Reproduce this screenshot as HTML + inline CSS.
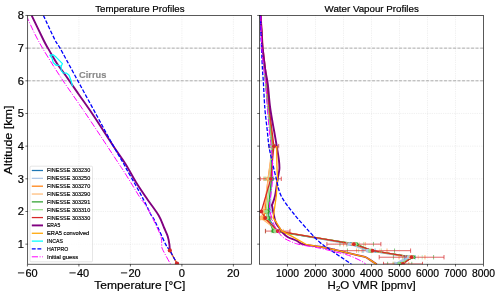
<!DOCTYPE html>
<html><head><meta charset="utf-8"><title>Profiles</title>
<style>html,body{margin:0;padding:0;background:#fff;}svg{display:block;will-change:transform;}text{stroke:#000;stroke-width:0.2px;}text.lg{stroke-width:0.16px;}text.ci{stroke:#8a8a8a;stroke-width:0.15px;}</style></head>
<body>
<svg width="500" height="296" viewBox="0 0 500 296">
<rect x="0" y="0" width="500" height="296" fill="#fff"/>
<defs><clipPath id="c1"><rect x="27.70" y="15.40" width="223.90" height="248.80"/></clipPath>
<clipPath id="c2"><rect x="259.50" y="15.40" width="224.00" height="248.80"/></clipPath></defs>
<line x1="78.92" y1="15.40" x2="78.92" y2="264.20" stroke="#b0b0b0" stroke-opacity="0.45" stroke-width="0.6" stroke-dasharray="0.7 1.1"/>
<line x1="130.41" y1="15.40" x2="130.41" y2="264.20" stroke="#b0b0b0" stroke-opacity="0.45" stroke-width="0.6" stroke-dasharray="0.7 1.1"/>
<line x1="181.90" y1="15.40" x2="181.90" y2="264.20" stroke="#b0b0b0" stroke-opacity="0.45" stroke-width="0.6" stroke-dasharray="0.7 1.1"/>
<line x1="233.39" y1="15.40" x2="233.39" y2="264.20" stroke="#b0b0b0" stroke-opacity="0.45" stroke-width="0.6" stroke-dasharray="0.7 1.1"/>
<line x1="27.70" y1="244.15" x2="251.60" y2="244.15" stroke="#b0b0b0" stroke-opacity="0.45" stroke-width="0.6" stroke-dasharray="0.7 1.1"/>
<line x1="27.70" y1="211.48" x2="251.60" y2="211.48" stroke="#b0b0b0" stroke-opacity="0.45" stroke-width="0.6" stroke-dasharray="0.7 1.1"/>
<line x1="27.70" y1="178.81" x2="251.60" y2="178.81" stroke="#b0b0b0" stroke-opacity="0.45" stroke-width="0.6" stroke-dasharray="0.7 1.1"/>
<line x1="27.70" y1="146.14" x2="251.60" y2="146.14" stroke="#b0b0b0" stroke-opacity="0.45" stroke-width="0.6" stroke-dasharray="0.7 1.1"/>
<line x1="27.70" y1="113.47" x2="251.60" y2="113.47" stroke="#b0b0b0" stroke-opacity="0.45" stroke-width="0.6" stroke-dasharray="0.7 1.1"/>
<line x1="27.70" y1="80.80" x2="251.60" y2="80.80" stroke="#b0b0b0" stroke-opacity="0.45" stroke-width="0.6" stroke-dasharray="0.7 1.1"/>
<line x1="27.70" y1="48.13" x2="251.60" y2="48.13" stroke="#b0b0b0" stroke-opacity="0.45" stroke-width="0.6" stroke-dasharray="0.7 1.1"/>
<line x1="27.70" y1="80.80" x2="251.60" y2="80.80" stroke="#808080" stroke-opacity="0.75" stroke-width="0.85" stroke-dasharray="3.1 1.4"/>
<line x1="27.70" y1="48.13" x2="251.60" y2="48.13" stroke="#808080" stroke-opacity="0.75" stroke-width="0.85" stroke-dasharray="3.1 1.4"/>
<g clip-path="url(#c1)">
<path d="M169.80 250.40 L177.00 263.60" fill="none" stroke="#d62728" stroke-width="1.1" stroke-linejoin="round"/>
<path d="M169.80 250.40 L177.00 263.60" fill="none" stroke="#ff7f0e" stroke-width="1.1" stroke-linejoin="round"/>
<path d="M31.60 15.40 C33.58 19.50 40.80 34.58 43.50 40.00 C46.20 45.42 46.38 45.37 47.80 47.90 C49.22 50.43 50.38 52.47 52.00 55.20 C53.62 57.93 55.17 60.83 57.50 64.30 C59.83 67.77 62.42 70.93 66.00 76.00 C69.58 81.07 74.37 88.03 79.00 94.70 C83.63 101.37 88.08 107.45 93.80 116.00 C99.52 124.55 108.02 138.00 113.30 146.00 C118.58 154.00 121.72 157.97 125.50 164.00 C129.28 170.03 132.37 176.33 136.00 182.20 C139.63 188.07 143.52 193.65 147.30 199.20 C151.08 204.75 155.88 210.70 158.70 215.50 C161.52 220.30 162.70 224.55 164.20 228.00 C165.70 231.45 166.83 233.47 167.70 236.20 C168.57 238.93 169.05 242.03 169.40 244.40 C169.75 246.77 169.73 249.40 169.80 250.40" fill="none" stroke="#800080" stroke-width="1.9" stroke-linejoin="round"/>
<path d="M49.60 55.20 L53.20 54.80 L56.30 57.30 L62.40 63.70 L61.20 66.20 L57.50 65.00 L56.30 65.50 L53.20 62.50 L52.00 58.20 L49.60 55.20" fill="none" stroke="#00ffff" stroke-width="1.2" stroke-linejoin="round"/>
<path d="M61.20 66.20 L61.20 70.40 L63.00 72.80 L66.60 73.10 L69.10 75.30 L71.20 81.00 L72.50 86.30" fill="none" stroke="#00ffff" stroke-width="1.2" stroke-linejoin="round"/>
<path d="M43.40 15.40 C45.33 19.50 52.25 34.58 55.00 40.00 C57.75 45.42 56.53 41.90 59.90 47.90 C63.27 53.90 69.02 64.65 75.20 76.00 C81.38 87.35 90.78 104.60 97.00 116.00 C103.22 127.40 108.03 136.40 112.50 144.40 C116.97 152.40 121.38 159.73 123.80 164.00 C126.22 168.27 125.23 166.83 127.00 170.00 C128.77 173.17 131.82 178.40 134.40 183.00 C136.98 187.60 139.67 192.18 142.50 197.60 C145.33 203.02 149.42 211.77 151.40 215.50 C153.38 219.23 152.02 215.18 154.40 220.00 C156.78 224.82 163.13 239.33 165.70 244.40 C168.27 249.47 167.92 247.20 169.80 250.40 C171.68 253.60 175.80 261.40 177.00 263.60" fill="none" stroke="#0000ff" stroke-width="1.3" stroke-linejoin="round" stroke-dasharray="3.9 1.7"/>
<path d="M26.30 15.40 C28.35 19.70 33.00 31.10 38.60 41.20 C44.20 51.30 51.78 63.53 59.90 76.00 C68.02 88.47 77.45 101.33 87.30 116.00 C97.15 130.67 113.05 155.00 119.00 164.00 C124.95 173.00 120.98 166.83 123.00 170.00 C125.02 173.17 128.27 178.40 131.10 183.00 C133.93 187.60 137.70 194.08 140.00 197.60 C142.30 201.12 142.87 200.87 144.90 204.10 C146.93 207.33 150.77 214.35 152.20 217.00 C153.63 219.65 152.07 216.80 153.50 220.00 C154.93 223.20 159.43 232.13 160.80 236.20 C162.17 240.27 161.42 242.23 161.70 244.40 C161.98 246.57 161.02 245.90 162.50 249.20 C163.98 252.50 169.25 261.70 170.60 264.20" fill="none" stroke="#ff00ff" stroke-width="1.0" stroke-linejoin="round" stroke-dasharray="6.2 1.6 1 1.6"/>
<circle cx="169.8" cy="250.4" r="2.1" fill="#d62728"/>
<circle cx="177" cy="263.6" r="2.2" fill="#d62728"/>
</g>
<text class="ci" x="79.1" y="78" font-family='"Liberation Sans", sans-serif' font-size="9" font-weight="bold" fill="#8a8a8a" textLength="27.2" lengthAdjust="spacingAndGlyphs">Cirrus</text>
<rect x="30" y="166.2" width="62.5" height="95.6" rx="1" fill="#fff" fill-opacity="0.8" stroke="#ccc" stroke-width="0.5"/>
<line x1="31.8" y1="170.50" x2="43" y2="170.50" stroke="#1f77b4" stroke-width="1.25"/>
<text class="lg" x="47" y="172.45" font-family='"Liberation Sans", sans-serif' font-size="5.5" fill="#000" textLength="43.2" lengthAdjust="spacingAndGlyphs">FINESSE 303230</text>
<line x1="31.8" y1="178.34" x2="43" y2="178.34" stroke="#aec7e8" stroke-width="1.25"/>
<text class="lg" x="47" y="180.29" font-family='"Liberation Sans", sans-serif' font-size="5.5" fill="#000" textLength="43.2" lengthAdjust="spacingAndGlyphs">FINESSE 303250</text>
<line x1="31.8" y1="186.19" x2="43" y2="186.19" stroke="#ff7f0e" stroke-width="1.25"/>
<text class="lg" x="47" y="188.14" font-family='"Liberation Sans", sans-serif' font-size="5.5" fill="#000" textLength="43.2" lengthAdjust="spacingAndGlyphs">FINESSE 303270</text>
<line x1="31.8" y1="194.03" x2="43" y2="194.03" stroke="#ffbb78" stroke-width="1.25"/>
<text class="lg" x="47" y="195.98" font-family='"Liberation Sans", sans-serif' font-size="5.5" fill="#000" textLength="43.2" lengthAdjust="spacingAndGlyphs">FINESSE 303290</text>
<line x1="31.8" y1="201.88" x2="43" y2="201.88" stroke="#2ca02c" stroke-width="1.25"/>
<text class="lg" x="47" y="203.83" font-family='"Liberation Sans", sans-serif' font-size="5.5" fill="#000" textLength="43.2" lengthAdjust="spacingAndGlyphs">FINESSE 303291</text>
<line x1="31.8" y1="209.72" x2="43" y2="209.72" stroke="#98df8a" stroke-width="1.25"/>
<text class="lg" x="47" y="211.67" font-family='"Liberation Sans", sans-serif' font-size="5.5" fill="#000" textLength="43.2" lengthAdjust="spacingAndGlyphs">FINESSE 303310</text>
<line x1="31.8" y1="217.57" x2="43" y2="217.57" stroke="#d62728" stroke-width="1.25"/>
<text class="lg" x="47" y="219.52" font-family='"Liberation Sans", sans-serif' font-size="5.5" fill="#000" textLength="43.2" lengthAdjust="spacingAndGlyphs">FINESSE 303330</text>
<line x1="31.8" y1="225.41" x2="43" y2="225.41" stroke="#800080" stroke-width="1.9"/>
<text class="lg" x="47" y="227.36" font-family='"Liberation Sans", sans-serif' font-size="5.5" fill="#000" textLength="13.2" lengthAdjust="spacingAndGlyphs">ERA5</text>
<line x1="31.8" y1="233.26" x2="43" y2="233.26" stroke="#ffa500" stroke-width="1.25"/>
<text class="lg" x="47" y="235.21" font-family='"Liberation Sans", sans-serif' font-size="5.5" fill="#000" textLength="42.3" lengthAdjust="spacingAndGlyphs">ERA5 convolved</text>
<line x1="31.8" y1="241.11" x2="43" y2="241.11" stroke="#00ffff" stroke-width="1.25"/>
<text class="lg" x="47" y="243.06" font-family='"Liberation Sans", sans-serif' font-size="5.5" fill="#000" textLength="16" lengthAdjust="spacingAndGlyphs">INCAS</text>
<line x1="31.8" y1="248.95" x2="43" y2="248.95" stroke="#0000ff" stroke-width="1.3" stroke-dasharray="3.9 1.7"/>
<text class="lg" x="47" y="250.90" font-family='"Liberation Sans", sans-serif' font-size="5.5" fill="#000" textLength="21.2" lengthAdjust="spacingAndGlyphs">HATPRO</text>
<line x1="31.8" y1="256.80" x2="43" y2="256.80" stroke="#ff00ff" stroke-width="1.0" stroke-dasharray="6.2 1.6 1 1.6"/>
<text class="lg" x="47" y="258.75" font-family='"Liberation Sans", sans-serif' font-size="5.5" fill="#000" textLength="31.2" lengthAdjust="spacingAndGlyphs">Initial guess</text>
<line x1="287.50" y1="15.40" x2="287.50" y2="264.20" stroke="#b0b0b0" stroke-opacity="0.45" stroke-width="0.6" stroke-dasharray="0.7 1.1"/>
<line x1="315.50" y1="15.40" x2="315.50" y2="264.20" stroke="#b0b0b0" stroke-opacity="0.45" stroke-width="0.6" stroke-dasharray="0.7 1.1"/>
<line x1="343.50" y1="15.40" x2="343.50" y2="264.20" stroke="#b0b0b0" stroke-opacity="0.45" stroke-width="0.6" stroke-dasharray="0.7 1.1"/>
<line x1="371.50" y1="15.40" x2="371.50" y2="264.20" stroke="#b0b0b0" stroke-opacity="0.45" stroke-width="0.6" stroke-dasharray="0.7 1.1"/>
<line x1="399.50" y1="15.40" x2="399.50" y2="264.20" stroke="#b0b0b0" stroke-opacity="0.45" stroke-width="0.6" stroke-dasharray="0.7 1.1"/>
<line x1="427.50" y1="15.40" x2="427.50" y2="264.20" stroke="#b0b0b0" stroke-opacity="0.45" stroke-width="0.6" stroke-dasharray="0.7 1.1"/>
<line x1="455.50" y1="15.40" x2="455.50" y2="264.20" stroke="#b0b0b0" stroke-opacity="0.45" stroke-width="0.6" stroke-dasharray="0.7 1.1"/>
<line x1="259.50" y1="244.15" x2="483.50" y2="244.15" stroke="#b0b0b0" stroke-opacity="0.45" stroke-width="0.6" stroke-dasharray="0.7 1.1"/>
<line x1="259.50" y1="211.48" x2="483.50" y2="211.48" stroke="#b0b0b0" stroke-opacity="0.45" stroke-width="0.6" stroke-dasharray="0.7 1.1"/>
<line x1="259.50" y1="178.81" x2="483.50" y2="178.81" stroke="#b0b0b0" stroke-opacity="0.45" stroke-width="0.6" stroke-dasharray="0.7 1.1"/>
<line x1="259.50" y1="146.14" x2="483.50" y2="146.14" stroke="#b0b0b0" stroke-opacity="0.45" stroke-width="0.6" stroke-dasharray="0.7 1.1"/>
<line x1="259.50" y1="113.47" x2="483.50" y2="113.47" stroke="#b0b0b0" stroke-opacity="0.45" stroke-width="0.6" stroke-dasharray="0.7 1.1"/>
<line x1="259.50" y1="80.80" x2="483.50" y2="80.80" stroke="#b0b0b0" stroke-opacity="0.45" stroke-width="0.6" stroke-dasharray="0.7 1.1"/>
<line x1="259.50" y1="48.13" x2="483.50" y2="48.13" stroke="#b0b0b0" stroke-opacity="0.45" stroke-width="0.6" stroke-dasharray="0.7 1.1"/>
<line x1="259.50" y1="80.80" x2="483.50" y2="80.80" stroke="#808080" stroke-opacity="0.75" stroke-width="0.85" stroke-dasharray="3.1 1.4"/>
<line x1="259.50" y1="48.13" x2="483.50" y2="48.13" stroke="#808080" stroke-opacity="0.75" stroke-width="0.85" stroke-dasharray="3.1 1.4"/>
<g clip-path="url(#c2)">
<path d="M398.00 264.00 L410.00 257.22 L369.00 250.68 L351.00 244.15 L277.00 231.08 L268.50 218.01 L269.30 211.48 L271.80 178.81 L272.30 146.14 L268.60 113.47 L265.60 80.80 L262.20 48.13 L260.90 15.46" fill="none" stroke="#1f77b4" stroke-width="1.25" stroke-linejoin="round"/>
<path d="M396.50 264.00 L408.70 257.22 L367.50 250.68 L349.40 244.15 L276.00 231.08 L267.50 218.01 L270.50 211.48 L271.00 178.81 L272.60 146.14 L268.80 113.47 L265.60 80.80 L262.20 48.13 L260.90 15.46" fill="none" stroke="#aec7e8" stroke-width="1.25" stroke-linejoin="round"/>
<path d="M401.00 264.00 L412.00 257.22 L371.80 250.68 L354.40 244.15 L278.30 231.08 L264.00 218.01 L265.00 211.48 L268.00 178.81 L273.00 146.14 L269.20 113.47 L265.90 80.80 L262.40 48.13 L260.90 15.46" fill="none" stroke="#ff7f0e" stroke-width="1.25" stroke-linejoin="round"/>
<path d="M400.00 264.00 L410.50 257.22 L370.80 250.68 L352.80 244.15 L278.00 231.08 L261.00 218.01 L263.50 211.48 L268.30 178.81 L272.00 146.14 L268.60 113.47 L265.60 80.80 L262.20 48.13 L260.90 15.46" fill="none" stroke="#ffbb78" stroke-width="1.25" stroke-linejoin="round"/>
<path d="M399.70 264.00 L413.50 257.22 L371.00 250.68 L356.70 244.15 L273.20 231.08 L268.40 218.01 L268.00 211.48 L271.50 178.81 L272.00 146.14 L268.50 113.47 L265.50 80.80 L262.20 48.13 L260.90 15.46" fill="none" stroke="#2ca02c" stroke-width="1.25" stroke-linejoin="round"/>
<path d="M399.00 264.00 L412.50 257.22 L370.00 250.68 L355.50 244.15 L275.00 231.08 L267.00 218.01 L266.20 211.48 L270.00 178.81 L271.60 146.14 L268.30 113.47 L265.40 80.80 L262.20 48.13 L260.90 15.46" fill="none" stroke="#98df8a" stroke-width="1.25" stroke-linejoin="round"/>
<path d="M403.00 264.00 L411.60 257.22 L372.60 250.68 L353.90 244.15 L277.70 231.08 L265.30 218.01 L261.30 211.48 L270.80 178.81 L273.90 146.14 L269.90 113.47 L266.80 80.80 L263.00 48.13 L261.00 15.46" fill="none" stroke="#d62728" stroke-width="1.25" stroke-linejoin="round"/>
<path d="M408.40 257.22 L396.50 264.00" fill="none" stroke="#aec7e8" stroke-width="2.6" stroke-linejoin="round"/>
<path d="M399.70 264.00 L413.50 257.22" fill="none" stroke="#2ca02c" stroke-width="1.25" stroke-linejoin="round"/>
<path d="M399.00 264.00 L412.50 257.22" fill="none" stroke="#98df8a" stroke-width="1.25" stroke-linejoin="round"/>
<path d="M403.00 264.00 L411.60 257.22" fill="none" stroke="#d62728" stroke-width="1.25" stroke-linejoin="round"/>
<path d="M394.88 261.80 v4.4 M401.12 261.80 v4.4" stroke="#1f77b4" stroke-opacity="0.6" stroke-width="0.95" fill="none"/>
<path d="M404.82 255.02 v4.4 M415.18 255.02 v4.4" stroke="#1f77b4" stroke-opacity="0.6" stroke-width="0.95" fill="none"/>
<path d="M362.92 248.48 v4.4 M375.08 248.48 v4.4" stroke="#1f77b4" stroke-opacity="0.6" stroke-width="0.95" fill="none"/>
<path d="M346.68 241.95 v4.4 M355.32 241.95 v4.4" stroke="#1f77b4" stroke-opacity="0.6" stroke-width="0.95" fill="none"/>
<path d="M275.03 228.88 v4.4 M278.97 228.88 v4.4" stroke="#1f77b4" stroke-opacity="0.6" stroke-width="0.95" fill="none"/>
<path d="M270.12 176.61 v4.4 M273.48 176.61 v4.4" stroke="#1f77b4" stroke-opacity="0.6" stroke-width="0.95" fill="none"/>
<path d="M394.55 261.80 v4.4 M398.45 261.80 v4.4" stroke="#aec7e8" stroke-opacity="0.6" stroke-width="0.95" fill="none"/>
<path d="M405.46 255.02 v4.4 M411.94 255.02 v4.4" stroke="#aec7e8" stroke-opacity="0.6" stroke-width="0.95" fill="none"/>
<path d="M363.70 248.48 v4.4 M371.30 248.48 v4.4" stroke="#aec7e8" stroke-opacity="0.6" stroke-width="0.95" fill="none"/>
<path d="M346.70 241.95 v4.4 M352.10 241.95 v4.4" stroke="#aec7e8" stroke-opacity="0.6" stroke-width="0.95" fill="none"/>
<path d="M274.77 228.88 v4.4 M277.23 228.88 v4.4" stroke="#aec7e8" stroke-opacity="0.6" stroke-width="0.95" fill="none"/>
<path d="M269.95 176.61 v4.4 M272.05 176.61 v4.4" stroke="#aec7e8" stroke-opacity="0.6" stroke-width="0.95" fill="none"/>
<path d="M393.20 261.80 v4.4 M408.80 261.80 v4.4" stroke="#ff7f0e" stroke-opacity="0.6" stroke-width="0.95" fill="none"/>
<path d="M399.04 255.02 v4.4 M424.96 255.02 v4.4" stroke="#ff7f0e" stroke-opacity="0.6" stroke-width="0.95" fill="none"/>
<path d="M356.60 248.48 v4.4 M387.00 248.48 v4.4" stroke="#ff7f0e" stroke-opacity="0.6" stroke-width="0.95" fill="none"/>
<path d="M343.60 241.95 v4.4 M365.20 241.95 v4.4" stroke="#ff7f0e" stroke-opacity="0.6" stroke-width="0.95" fill="none"/>
<path d="M273.38 228.88 v4.4 M283.22 228.88 v4.4" stroke="#ff7f0e" stroke-opacity="0.6" stroke-width="0.95" fill="none"/>
<path d="M262.00 215.81 v4.4 M266.00 215.81 v4.4" stroke="#ff7f0e" stroke-opacity="0.6" stroke-width="0.95" fill="none"/>
<path d="M263.40 209.28 v4.4 M266.60 209.28 v4.4" stroke="#ff7f0e" stroke-opacity="0.6" stroke-width="0.95" fill="none"/>
<path d="M263.80 176.61 v4.4 M272.20 176.61 v4.4" stroke="#ff7f0e" stroke-opacity="0.6" stroke-width="0.95" fill="none"/>
<path d="M271.08 143.94 v4.4 M274.92 143.94 v4.4" stroke="#ff7f0e" stroke-opacity="0.6" stroke-width="0.95" fill="none"/>
<path d="M395.32 261.80 v4.4 M404.68 261.80 v4.4" stroke="#ffbb78" stroke-opacity="0.6" stroke-width="0.95" fill="none"/>
<path d="M402.72 255.02 v4.4 M418.28 255.02 v4.4" stroke="#ffbb78" stroke-opacity="0.6" stroke-width="0.95" fill="none"/>
<path d="M361.68 248.48 v4.4 M379.92 248.48 v4.4" stroke="#ffbb78" stroke-opacity="0.6" stroke-width="0.95" fill="none"/>
<path d="M346.32 241.95 v4.4 M359.28 241.95 v4.4" stroke="#ffbb78" stroke-opacity="0.6" stroke-width="0.95" fill="none"/>
<path d="M275.05 228.88 v4.4 M280.95 228.88 v4.4" stroke="#ffbb78" stroke-opacity="0.6" stroke-width="0.95" fill="none"/>
<path d="M259.80 215.81 v4.4 M262.20 215.81 v4.4" stroke="#ffbb78" stroke-opacity="0.6" stroke-width="0.95" fill="none"/>
<path d="M262.54 209.28 v4.4 M264.46 209.28 v4.4" stroke="#ffbb78" stroke-opacity="0.6" stroke-width="0.95" fill="none"/>
<path d="M265.78 176.61 v4.4 M270.82 176.61 v4.4" stroke="#ffbb78" stroke-opacity="0.6" stroke-width="0.95" fill="none"/>
<path d="M270.85 143.94 v4.4 M273.15 143.94 v4.4" stroke="#ffbb78" stroke-opacity="0.6" stroke-width="0.95" fill="none"/>
<path d="M387.61 261.80 v4.4 M411.79 261.80 v4.4" stroke="#2ca02c" stroke-opacity="0.6" stroke-width="0.95" fill="none"/>
<path d="M393.41 255.02 v4.4 M433.59 255.02 v4.4" stroke="#2ca02c" stroke-opacity="0.6" stroke-width="0.95" fill="none"/>
<path d="M347.44 248.48 v4.4 M394.56 248.48 v4.4" stroke="#2ca02c" stroke-opacity="0.6" stroke-width="0.95" fill="none"/>
<path d="M339.96 241.95 v4.4 M373.44 241.95 v4.4" stroke="#2ca02c" stroke-opacity="0.6" stroke-width="0.95" fill="none"/>
<path d="M265.57 228.88 v4.4 M280.83 228.88 v4.4" stroke="#2ca02c" stroke-opacity="0.6" stroke-width="0.95" fill="none"/>
<path d="M265.30 215.81 v4.4 M271.50 215.81 v4.4" stroke="#2ca02c" stroke-opacity="0.6" stroke-width="0.95" fill="none"/>
<path d="M265.52 209.28 v4.4 M270.48 209.28 v4.4" stroke="#2ca02c" stroke-opacity="0.6" stroke-width="0.95" fill="none"/>
<path d="M264.99 176.61 v4.4 M278.01 176.61 v4.4" stroke="#2ca02c" stroke-opacity="0.6" stroke-width="0.95" fill="none"/>
<path d="M269.02 143.94 v4.4 M274.98 143.94 v4.4" stroke="#2ca02c" stroke-opacity="0.6" stroke-width="0.95" fill="none"/>
<path d="M393.15 261.80 v4.4 M404.85 261.80 v4.4" stroke="#98df8a" stroke-opacity="0.6" stroke-width="0.95" fill="none"/>
<path d="M402.78 255.02 v4.4 M422.22 255.02 v4.4" stroke="#98df8a" stroke-opacity="0.6" stroke-width="0.95" fill="none"/>
<path d="M358.60 248.48 v4.4 M381.40 248.48 v4.4" stroke="#98df8a" stroke-opacity="0.6" stroke-width="0.95" fill="none"/>
<path d="M347.40 241.95 v4.4 M363.60 241.95 v4.4" stroke="#98df8a" stroke-opacity="0.6" stroke-width="0.95" fill="none"/>
<path d="M271.31 228.88 v4.4 M278.69 228.88 v4.4" stroke="#98df8a" stroke-opacity="0.6" stroke-width="0.95" fill="none"/>
<path d="M265.50 215.81 v4.4 M268.50 215.81 v4.4" stroke="#98df8a" stroke-opacity="0.6" stroke-width="0.95" fill="none"/>
<path d="M265.00 209.28 v4.4 M267.40 209.28 v4.4" stroke="#98df8a" stroke-opacity="0.6" stroke-width="0.95" fill="none"/>
<path d="M266.85 176.61 v4.4 M273.15 176.61 v4.4" stroke="#98df8a" stroke-opacity="0.6" stroke-width="0.95" fill="none"/>
<path d="M270.16 143.94 v4.4 M273.04 143.94 v4.4" stroke="#98df8a" stroke-opacity="0.6" stroke-width="0.95" fill="none"/>
<path d="M383.50 264.00 H422.50 M383.50 261.80 v4.4 M422.50 261.80 v4.4" stroke="#d62728" stroke-opacity="0.7" stroke-width="1.0" fill="none"/>
<path d="M379.20 257.22 H444.00 M379.20 255.02 v4.4 M444.00 255.02 v4.4" stroke="#d62728" stroke-opacity="0.7" stroke-width="1.0" fill="none"/>
<path d="M334.60 250.68 H410.60 M334.60 248.48 v4.4 M410.60 248.48 v4.4" stroke="#d62728" stroke-opacity="0.7" stroke-width="1.0" fill="none"/>
<path d="M326.90 244.15 H380.90 M326.90 241.95 v4.4 M380.90 241.95 v4.4" stroke="#d62728" stroke-opacity="0.7" stroke-width="1.0" fill="none"/>
<path d="M265.40 231.08 H290.00 M265.40 228.88 v4.4 M290.00 228.88 v4.4" stroke="#d62728" stroke-opacity="0.7" stroke-width="1.0" fill="none"/>
<path d="M260.30 218.01 H270.30 M260.30 215.81 v4.4 M270.30 215.81 v4.4" stroke="#d62728" stroke-opacity="0.7" stroke-width="1.0" fill="none"/>
<path d="M257.30 211.48 H265.30 M257.30 209.28 v4.4 M265.30 209.28 v4.4" stroke="#d62728" stroke-opacity="0.7" stroke-width="1.0" fill="none"/>
<path d="M260.30 178.81 H281.30 M260.30 176.61 v4.4 M281.30 176.61 v4.4" stroke="#d62728" stroke-opacity="0.7" stroke-width="1.0" fill="none"/>
<path d="M269.10 146.14 H278.70 M269.10 143.94 v4.4 M278.70 143.94 v4.4" stroke="#d62728" stroke-opacity="0.7" stroke-width="1.0" fill="none"/>
<circle cx="398.00" cy="264.00" r="1.9" fill="#1f77b4"/>
<circle cx="410.00" cy="257.22" r="1.9" fill="#1f77b4"/>
<circle cx="369.00" cy="250.68" r="1.9" fill="#1f77b4"/>
<circle cx="351.00" cy="244.15" r="1.9" fill="#1f77b4"/>
<circle cx="277.00" cy="231.08" r="1.9" fill="#1f77b4"/>
<circle cx="268.50" cy="218.01" r="1.9" fill="#1f77b4"/>
<circle cx="269.30" cy="211.48" r="1.9" fill="#1f77b4"/>
<circle cx="271.80" cy="178.81" r="1.9" fill="#1f77b4"/>
<circle cx="272.30" cy="146.14" r="1.9" fill="#1f77b4"/>
<circle cx="396.50" cy="264.00" r="1.9" fill="#aec7e8"/>
<circle cx="408.70" cy="257.22" r="1.9" fill="#aec7e8"/>
<circle cx="367.50" cy="250.68" r="1.9" fill="#aec7e8"/>
<circle cx="349.40" cy="244.15" r="1.9" fill="#aec7e8"/>
<circle cx="276.00" cy="231.08" r="1.9" fill="#aec7e8"/>
<circle cx="267.50" cy="218.01" r="1.9" fill="#aec7e8"/>
<circle cx="270.50" cy="211.48" r="1.9" fill="#aec7e8"/>
<circle cx="271.00" cy="178.81" r="1.9" fill="#aec7e8"/>
<circle cx="272.60" cy="146.14" r="1.9" fill="#aec7e8"/>
<circle cx="401.00" cy="264.00" r="1.9" fill="#ff7f0e"/>
<circle cx="412.00" cy="257.22" r="1.9" fill="#ff7f0e"/>
<circle cx="371.80" cy="250.68" r="1.9" fill="#ff7f0e"/>
<circle cx="354.40" cy="244.15" r="1.9" fill="#ff7f0e"/>
<circle cx="278.30" cy="231.08" r="1.9" fill="#ff7f0e"/>
<circle cx="264.00" cy="218.01" r="1.9" fill="#ff7f0e"/>
<circle cx="265.00" cy="211.48" r="1.9" fill="#ff7f0e"/>
<circle cx="268.00" cy="178.81" r="1.9" fill="#ff7f0e"/>
<circle cx="273.00" cy="146.14" r="1.9" fill="#ff7f0e"/>
<circle cx="400.00" cy="264.00" r="1.9" fill="#ffbb78"/>
<circle cx="410.50" cy="257.22" r="1.9" fill="#ffbb78"/>
<circle cx="370.80" cy="250.68" r="1.9" fill="#ffbb78"/>
<circle cx="352.80" cy="244.15" r="1.9" fill="#ffbb78"/>
<circle cx="278.00" cy="231.08" r="1.9" fill="#ffbb78"/>
<circle cx="261.00" cy="218.01" r="1.9" fill="#ffbb78"/>
<circle cx="263.50" cy="211.48" r="1.9" fill="#ffbb78"/>
<circle cx="268.30" cy="178.81" r="1.9" fill="#ffbb78"/>
<circle cx="272.00" cy="146.14" r="1.9" fill="#ffbb78"/>
<circle cx="399.70" cy="264.00" r="1.9" fill="#2ca02c"/>
<circle cx="413.50" cy="257.22" r="1.9" fill="#2ca02c"/>
<circle cx="371.00" cy="250.68" r="1.9" fill="#2ca02c"/>
<circle cx="356.70" cy="244.15" r="1.9" fill="#2ca02c"/>
<circle cx="273.20" cy="231.08" r="1.9" fill="#2ca02c"/>
<circle cx="268.40" cy="218.01" r="1.9" fill="#2ca02c"/>
<circle cx="268.00" cy="211.48" r="1.9" fill="#2ca02c"/>
<circle cx="271.50" cy="178.81" r="1.9" fill="#2ca02c"/>
<circle cx="272.00" cy="146.14" r="1.9" fill="#2ca02c"/>
<circle cx="399.00" cy="264.00" r="1.9" fill="#98df8a"/>
<circle cx="412.50" cy="257.22" r="1.9" fill="#98df8a"/>
<circle cx="370.00" cy="250.68" r="1.9" fill="#98df8a"/>
<circle cx="355.50" cy="244.15" r="1.9" fill="#98df8a"/>
<circle cx="275.00" cy="231.08" r="1.9" fill="#98df8a"/>
<circle cx="267.00" cy="218.01" r="1.9" fill="#98df8a"/>
<circle cx="266.20" cy="211.48" r="1.9" fill="#98df8a"/>
<circle cx="270.00" cy="178.81" r="1.9" fill="#98df8a"/>
<circle cx="271.60" cy="146.14" r="1.9" fill="#98df8a"/>
<circle cx="403.00" cy="264.00" r="1.9" fill="#d62728"/>
<circle cx="411.60" cy="257.22" r="1.9" fill="#d62728"/>
<circle cx="372.60" cy="250.68" r="1.9" fill="#d62728"/>
<circle cx="353.90" cy="244.15" r="1.9" fill="#d62728"/>
<circle cx="277.70" cy="231.08" r="1.9" fill="#d62728"/>
<circle cx="265.30" cy="218.01" r="1.9" fill="#d62728"/>
<circle cx="261.30" cy="211.48" r="1.9" fill="#d62728"/>
<circle cx="270.80" cy="178.81" r="1.9" fill="#d62728"/>
<circle cx="273.90" cy="146.14" r="1.9" fill="#d62728"/>
<path d="M260.60 15.30 C260.82 19.42 261.57 34.55 261.90 40.00 C262.23 45.45 262.03 43.00 262.60 48.00 C263.17 53.00 264.43 64.00 265.30 70.00 C266.17 76.00 266.98 77.67 267.80 84.00 C268.62 90.33 269.12 100.00 270.20 108.00 C271.28 116.00 273.22 125.67 274.30 132.00 C275.38 138.33 275.93 141.33 276.70 146.00 C277.47 150.67 278.45 156.17 278.90 160.00 C279.35 163.83 279.60 165.88 279.40 169.00 C279.20 172.12 278.43 174.20 277.70 178.70 C276.97 183.20 275.92 191.68 275.00 196.00 C274.08 200.32 272.68 202.93 272.20 204.60 C271.72 206.27 271.72 203.78 272.10 206.00 C272.48 208.22 273.82 214.97 274.50 217.90 C275.18 220.83 275.40 221.95 276.20 223.60 C277.00 225.25 278.22 226.30 279.30 227.80 C280.38 229.30 281.32 231.07 282.70 232.60 C284.08 234.13 285.30 235.65 287.60 237.00 C289.90 238.35 293.85 239.47 296.50 240.70 C299.15 241.93 299.58 243.38 303.50 244.40 C307.42 245.42 314.88 245.93 320.00 246.80 C325.12 247.67 329.47 248.53 334.20 249.60 C338.93 250.67 343.43 252.02 348.40 253.20 C353.37 254.38 360.45 255.63 364.00 256.70 C367.55 257.77 367.57 258.30 369.70 259.60 C371.83 260.90 375.62 263.68 376.80 264.50" fill="none" stroke="#800080" stroke-width="1.9" stroke-linejoin="round"/>
<path d="M276.70 146.00 L276.90 166.00 L277.50 178.70 L276.30 196.00 L273.20 217.90 L276.20 222.00 L281.50 230.90 L292.50 236.60 L305.00 243.80" fill="none" stroke="#ffa500" stroke-width="1.3" stroke-linejoin="round"/>
<path d="M305.00 243.80 C305.50 243.97 305.50 244.30 308.00 244.80 C310.50 245.30 315.63 246.00 320.00 246.80 C324.37 247.60 329.47 248.53 334.20 249.60 C338.93 250.67 343.43 252.02 348.40 253.20 C353.37 254.38 360.45 255.63 364.00 256.70 C367.55 257.77 367.57 258.30 369.70 259.60 C371.83 260.90 375.62 263.68 376.80 264.50" fill="none" stroke="#ffa500" stroke-width="1.3" stroke-linejoin="round"/>
<path d="M260.30 15.30 C260.50 20.75 261.13 38.88 261.50 48.00 C261.87 57.12 262.20 64.53 262.50 70.00 C262.80 75.47 263.00 75.80 263.30 80.80 C263.60 85.80 263.97 94.57 264.30 100.00 C264.63 105.43 264.82 108.40 265.30 113.40 C265.78 118.40 266.60 124.57 267.20 130.00 C267.80 135.43 268.13 141.00 268.90 146.00 C269.67 151.00 270.57 154.55 271.80 160.00 C273.03 165.45 274.73 172.70 276.30 178.70 C277.87 184.70 278.25 190.12 281.20 196.00 C284.15 201.88 289.25 208.00 294.00 214.00 C298.75 220.00 305.37 227.25 309.70 232.00 C314.03 236.75 316.95 239.78 320.00 242.50 C323.05 245.22 323.03 244.87 328.00 248.30 C332.97 251.73 345.80 260.35 349.80 263.10 C353.80 265.85 351.63 264.52 352.00 264.80" fill="none" stroke="#0000ff" stroke-width="1.3" stroke-linejoin="round" stroke-dasharray="3.9 1.7"/>
<path d="M260.80 15.30 C260.97 20.75 261.27 38.88 261.80 48.00 C262.33 57.12 263.33 64.00 264.00 70.00 C264.67 76.00 265.23 77.67 265.80 84.00 C266.37 90.33 266.80 100.00 267.40 108.00 C268.00 116.00 268.88 126.67 269.40 132.00 C269.92 137.33 270.15 137.00 270.50 140.00 C270.85 143.00 271.18 146.67 271.50 150.00 C271.82 153.33 272.22 156.33 272.40 160.00 C272.58 163.67 272.63 168.00 272.60 172.00 C272.57 176.00 272.53 180.00 272.20 184.00 C271.87 188.00 271.03 191.97 270.60 196.00 C270.17 200.03 269.15 203.73 269.60 208.20 C270.05 212.67 271.67 218.60 273.30 222.80 C274.93 227.00 277.57 230.82 279.40 233.40 C281.23 235.98 282.40 236.95 284.30 238.30 C286.20 239.65 288.35 240.48 290.80 241.50 C293.25 242.52 294.13 243.28 299.00 244.40 C303.87 245.52 314.13 246.98 320.00 248.20 C325.87 249.42 329.47 250.52 334.20 251.70 C338.93 252.88 343.90 253.75 348.40 255.30 C352.90 256.85 358.25 259.47 361.20 261.00 C364.15 262.53 365.28 263.92 366.10 264.50" fill="none" stroke="#ff00ff" stroke-width="1.0" stroke-linejoin="round" stroke-dasharray="6.2 1.6 1 1.6"/>
</g>
<rect x="27.70" y="15.40" width="223.90" height="248.80" fill="none" stroke="#000" stroke-width="0.65"/>
<line x1="25.40" y1="244.15" x2="27.70" y2="244.15" stroke="#000" stroke-width="0.6"/>
<line x1="25.40" y1="211.48" x2="27.70" y2="211.48" stroke="#000" stroke-width="0.6"/>
<line x1="25.40" y1="178.81" x2="27.70" y2="178.81" stroke="#000" stroke-width="0.6"/>
<line x1="25.40" y1="146.14" x2="27.70" y2="146.14" stroke="#000" stroke-width="0.6"/>
<line x1="25.40" y1="113.47" x2="27.70" y2="113.47" stroke="#000" stroke-width="0.6"/>
<line x1="25.40" y1="80.80" x2="27.70" y2="80.80" stroke="#000" stroke-width="0.6"/>
<line x1="25.40" y1="48.13" x2="27.70" y2="48.13" stroke="#000" stroke-width="0.6"/>
<line x1="25.40" y1="15.46" x2="27.70" y2="15.46" stroke="#000" stroke-width="0.6"/>
<rect x="259.50" y="15.40" width="224.00" height="248.80" fill="none" stroke="#000" stroke-width="0.65"/>
<line x1="257.20" y1="244.15" x2="259.50" y2="244.15" stroke="#000" stroke-width="0.6"/>
<line x1="257.20" y1="211.48" x2="259.50" y2="211.48" stroke="#000" stroke-width="0.6"/>
<line x1="257.20" y1="178.81" x2="259.50" y2="178.81" stroke="#000" stroke-width="0.6"/>
<line x1="257.20" y1="146.14" x2="259.50" y2="146.14" stroke="#000" stroke-width="0.6"/>
<line x1="257.20" y1="113.47" x2="259.50" y2="113.47" stroke="#000" stroke-width="0.6"/>
<line x1="257.20" y1="80.80" x2="259.50" y2="80.80" stroke="#000" stroke-width="0.6"/>
<line x1="257.20" y1="48.13" x2="259.50" y2="48.13" stroke="#000" stroke-width="0.6"/>
<line x1="257.20" y1="15.46" x2="259.50" y2="15.46" stroke="#000" stroke-width="0.6"/>
<line x1="27.43" y1="264.20" x2="27.43" y2="266.50" stroke="#000" stroke-width="0.6"/>
<line x1="78.92" y1="264.20" x2="78.92" y2="266.50" stroke="#000" stroke-width="0.6"/>
<line x1="130.41" y1="264.20" x2="130.41" y2="266.50" stroke="#000" stroke-width="0.6"/>
<line x1="181.90" y1="264.20" x2="181.90" y2="266.50" stroke="#000" stroke-width="0.6"/>
<line x1="233.39" y1="264.20" x2="233.39" y2="266.50" stroke="#000" stroke-width="0.6"/>
<line x1="287.50" y1="264.20" x2="287.50" y2="266.50" stroke="#000" stroke-width="0.6"/>
<line x1="315.50" y1="264.20" x2="315.50" y2="266.50" stroke="#000" stroke-width="0.6"/>
<line x1="343.50" y1="264.20" x2="343.50" y2="266.50" stroke="#000" stroke-width="0.6"/>
<line x1="371.50" y1="264.20" x2="371.50" y2="266.50" stroke="#000" stroke-width="0.6"/>
<line x1="399.50" y1="264.20" x2="399.50" y2="266.50" stroke="#000" stroke-width="0.6"/>
<line x1="427.50" y1="264.20" x2="427.50" y2="266.50" stroke="#000" stroke-width="0.6"/>
<line x1="455.50" y1="264.20" x2="455.50" y2="266.50" stroke="#000" stroke-width="0.6"/>
<line x1="483.50" y1="264.20" x2="483.50" y2="266.50" stroke="#000" stroke-width="0.6"/>
<text x="23.90" y="247.90" font-family='"Liberation Sans", sans-serif' font-size="10.6" text-anchor="end" fill="#000" textLength="6.2" lengthAdjust="spacingAndGlyphs" >1</text>
<text x="23.90" y="215.23" font-family='"Liberation Sans", sans-serif' font-size="10.6" text-anchor="end" fill="#000" textLength="6.2" lengthAdjust="spacingAndGlyphs" >2</text>
<text x="23.90" y="182.56" font-family='"Liberation Sans", sans-serif' font-size="10.6" text-anchor="end" fill="#000" textLength="6.2" lengthAdjust="spacingAndGlyphs" >3</text>
<text x="23.90" y="149.89" font-family='"Liberation Sans", sans-serif' font-size="10.6" text-anchor="end" fill="#000" textLength="6.2" lengthAdjust="spacingAndGlyphs" >4</text>
<text x="23.90" y="117.22" font-family='"Liberation Sans", sans-serif' font-size="10.6" text-anchor="end" fill="#000" textLength="6.2" lengthAdjust="spacingAndGlyphs" >5</text>
<text x="23.90" y="84.55" font-family='"Liberation Sans", sans-serif' font-size="10.6" text-anchor="end" fill="#000" textLength="6.2" lengthAdjust="spacingAndGlyphs" >6</text>
<text x="23.90" y="51.88" font-family='"Liberation Sans", sans-serif' font-size="10.6" text-anchor="end" fill="#000" textLength="6.2" lengthAdjust="spacingAndGlyphs" >7</text>
<text x="23.90" y="19.21" font-family='"Liberation Sans", sans-serif' font-size="10.6" text-anchor="end" fill="#000" textLength="6.2" lengthAdjust="spacingAndGlyphs" >8</text>
<rect x="17.93" y="272.45" width="6.3" height="0.9" fill="#000"/>
<text x="25.53" y="276.60" font-family='"Liberation Sans", sans-serif' font-size="10.6" text-anchor="start" fill="#000" textLength="12.2" lengthAdjust="spacingAndGlyphs" >60</text>
<rect x="69.42" y="272.45" width="6.3" height="0.9" fill="#000"/>
<text x="77.02" y="276.60" font-family='"Liberation Sans", sans-serif' font-size="10.6" text-anchor="start" fill="#000" textLength="12.2" lengthAdjust="spacingAndGlyphs" >40</text>
<rect x="120.91" y="272.45" width="6.3" height="0.9" fill="#000"/>
<text x="128.51" y="276.60" font-family='"Liberation Sans", sans-serif' font-size="10.6" text-anchor="start" fill="#000" textLength="12.2" lengthAdjust="spacingAndGlyphs" >20</text>
<text x="181.90" y="276.60" font-family='"Liberation Sans", sans-serif' font-size="10.6" text-anchor="middle" fill="#000" textLength="6.2" lengthAdjust="spacingAndGlyphs" >0</text>
<text x="233.39" y="276.60" font-family='"Liberation Sans", sans-serif' font-size="10.6" text-anchor="middle" fill="#000" textLength="12.5" lengthAdjust="spacingAndGlyphs" >20</text>
<text x="287.50" y="276.60" font-family='"Liberation Sans", sans-serif' font-size="10.6" text-anchor="middle" fill="#000" textLength="23.0" lengthAdjust="spacingAndGlyphs" >1000</text>
<text x="315.50" y="276.60" font-family='"Liberation Sans", sans-serif' font-size="10.6" text-anchor="middle" fill="#000" textLength="23.0" lengthAdjust="spacingAndGlyphs" >2000</text>
<text x="343.50" y="276.60" font-family='"Liberation Sans", sans-serif' font-size="10.6" text-anchor="middle" fill="#000" textLength="23.0" lengthAdjust="spacingAndGlyphs" >3000</text>
<text x="371.50" y="276.60" font-family='"Liberation Sans", sans-serif' font-size="10.6" text-anchor="middle" fill="#000" textLength="23.0" lengthAdjust="spacingAndGlyphs" >4000</text>
<text x="399.50" y="276.60" font-family='"Liberation Sans", sans-serif' font-size="10.6" text-anchor="middle" fill="#000" textLength="23.0" lengthAdjust="spacingAndGlyphs" >5000</text>
<text x="427.50" y="276.60" font-family='"Liberation Sans", sans-serif' font-size="10.6" text-anchor="middle" fill="#000" textLength="23.0" lengthAdjust="spacingAndGlyphs" >6000</text>
<text x="455.50" y="276.60" font-family='"Liberation Sans", sans-serif' font-size="10.6" text-anchor="middle" fill="#000" textLength="23.0" lengthAdjust="spacingAndGlyphs" >7000</text>
<text x="483.50" y="276.60" font-family='"Liberation Sans", sans-serif' font-size="10.6" text-anchor="middle" fill="#000" textLength="23.0" lengthAdjust="spacingAndGlyphs" >8000</text>
<text x="139.90" y="11.90" font-family='"Liberation Sans", sans-serif' font-size="9.9" text-anchor="middle" fill="#000" textLength="89.4" lengthAdjust="spacingAndGlyphs" >Temperature Profiles</text>
<text x="371.70" y="11.90" font-family='"Liberation Sans", sans-serif' font-size="9.9" text-anchor="middle" fill="#000" textLength="94.2" lengthAdjust="spacingAndGlyphs" >Water Vapour Profiles</text>
<text x="139.80" y="288.60" font-family='"Liberation Sans", sans-serif' font-size="11.6" text-anchor="middle" fill="#000" textLength="91" lengthAdjust="spacingAndGlyphs" >Temperature [°C]</text>
<text x="371.60" y="288.80" font-family='"Liberation Sans", sans-serif' font-size="11.6" text-anchor="middle" fill="#000" textLength="88" lengthAdjust="spacingAndGlyphs" >H<tspan font-size="8.1" dy="1.7">2</tspan><tspan dy="-1.7">O VMR [ppmv]</tspan></text>
<text transform="translate(12.3,140) rotate(-90)" font-family='"Liberation Sans", sans-serif' font-size="11.6" text-anchor="middle" fill="#000" textLength="68.8" lengthAdjust="spacingAndGlyphs">Altitude [km]</text>
</svg>
</body></html>
